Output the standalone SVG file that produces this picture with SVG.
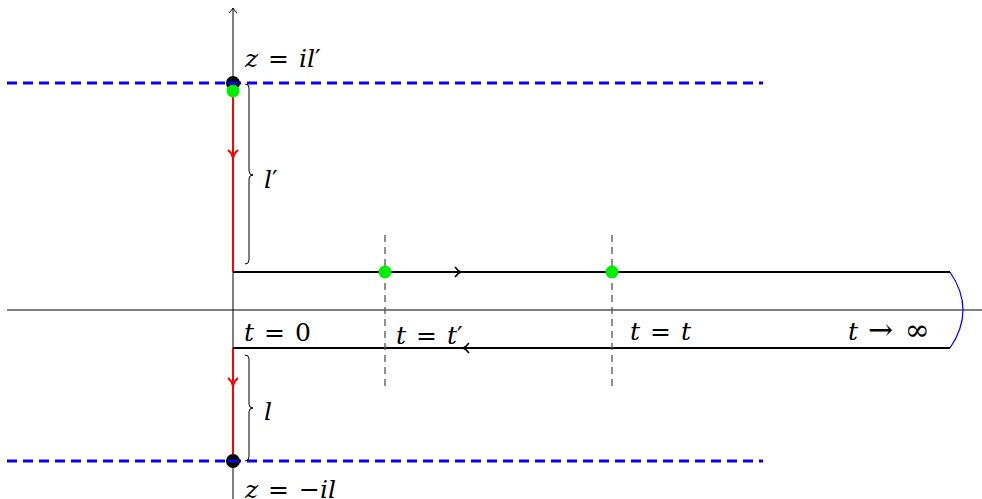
<svg xmlns="http://www.w3.org/2000/svg" width="982" height="499" viewBox="0 0 982 499">
<style>
.ax{stroke:#000;stroke-width:1;fill:none}
.blue{stroke:#0000ff;stroke-width:3;stroke-dasharray:10 6;fill:none}
.red{stroke:#ff0000;stroke-width:2;fill:none}
.cont{stroke:#000;stroke-width:2;fill:none}
.gd{stroke:#555;stroke-width:1.3;stroke-dasharray:7 5;fill:none}
.br{stroke:#000;stroke-width:1;fill:none}
text{font-family:'DejaVu Serif',serif;font-size:25px;fill:#000;word-spacing:2px}
.i{font-style:italic}
.big{font-size:30px}
.green{fill:#00ee00}
</style>
<g id="axes">
<line class="ax" x1="7" y1="310" x2="982" y2="310"/>
<line class="ax" x1="233" y1="499" x2="233" y2="8"/>
<path class="ax" d="M229,13 Q232,10 233,8 Q234,10 237,13"/>
</g>
<g id="blue-lines">
<line class="blue" x1="7" y1="83" x2="763" y2="83"/>
<line class="blue" x1="7" y1="461" x2="763" y2="461"/>
</g>
<g id="connectors">
<line class="red" x1="233" y1="91" x2="233" y2="272"/>
<path class="red" d="M228,150 Q232,153 233,158 Q234,153 238,150"/>
<line class="red" x1="233" y1="348" x2="233" y2="461"/>
<path class="red" d="M228,378 Q232,381 233,386 Q234,381 238,378"/>
<line class="cont" x1="233" y1="272" x2="950" y2="272"/>
<path class="ax" d="M455,267 Q458,271 461,272 Q458,273 455,277" style="stroke-width:1.5"/>
<line class="cont" x1="233" y1="348" x2="950" y2="348"/>
<path class="ax" d="M469,343 Q466,347 463,348 Q466,349 469,353" style="stroke-width:1.5"/>
<path d="M950,272 Q976,310 950,348" stroke="#0000ff" stroke-width="1.2" fill="none"/>
<line class="gd" x1="385" y1="235" x2="385" y2="390"/>
<line class="gd" x1="612" y1="235" x2="612" y2="390"/>
</g>
<g id="braces">
<path class="br" d="M245,84 Q249,84 249,88 L249,171 Q249,175 253,175 Q249,175 249,179 L249,260 Q249,264 245,264"/>
<path class="br" d="M245,355 Q249,355 249,359 L249,404 Q249,408 253,408 Q249,408 249,412 L249,457 Q249,461 245,461"/>
</g>
<g id="points">
<circle cx="233" cy="83" r="7" fill="#000"/>
<circle cx="233" cy="91" r="6.5" class="green"/>
<circle cx="233" cy="461" r="7" fill="#000"/>
<line x1="228" y1="461" x2="238" y2="461" stroke="#0000ff" stroke-width="3"/>
<line x1="228" y1="83" x2="238" y2="83" stroke="#0000ff" stroke-width="3"/>
<circle cx="385" cy="272" r="6.5" class="green"/>
<circle cx="612" cy="272" r="6.5" class="green"/>
</g>
<g id="labels">
<text x="245" y="67"><tspan class="i">z</tspan> = <tspan class="i">il</tspan>′</text>
<text x="264" y="188"><tspan class="i">l</tspan>′</text>
<text x="264" y="420"><tspan class="i">l</tspan></text>
<text x="245" y="498"><tspan class="i">z</tspan> = −<tspan class="i">il</tspan></text>
<text x="244" y="341"><tspan class="i">t</tspan> = 0</text>
<text x="396" y="344"><tspan class="i">t</tspan> = <tspan class="i">t</tspan>′</text>
<text x="630" y="340"><tspan class="i">t</tspan> = <tspan class="i">t</tspan></text>
<text x="848" y="340"><tspan class="i">t</tspan> <tspan class="big">→ ∞</tspan></text>
</g>
</svg>
